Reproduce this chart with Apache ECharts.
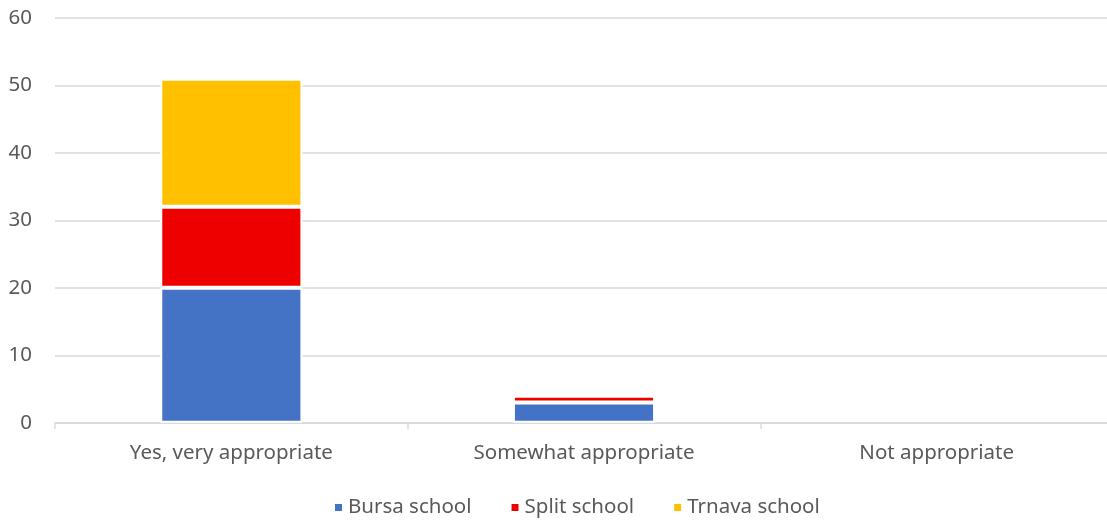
<!DOCTYPE html>
<html>
<head>
<meta charset="utf-8">
<script src="https://cdn.jsdelivr.net/npm/echarts@6/dist/echarts.min.js"></script>
<style>html,body{margin:0;padding:0;background:#fff;}#c{width:1107px;height:522px;}</style>
</head>
<body>
<div id="c"></div>
<script>
const categories = ['Yes, very appropriate', 'Somewhat appropriate', 'Not appropriate'];
const seriesNames = ['Bursa school', 'Split school', 'Trnava school'];
const bursa = [20, 3, 0];
const split = [12, 1, 0];
const trnava = [19, 0, 0];
const colors = ['#4472C4', '#EE0000', '#FFC000'];
const values = [bursa, split, trnava];

const chart = echarts.init(document.getElementById('c'));
const font = 'Noto Sans';
chart.setOption({
  animation: false,
  textStyle: { fontFamily: font },
  grid: { left: 55, width: 1058, top: 18, bottom: 99.3, containLabel: false, outerBoundsMode: 'none' },
  legend: {
    top: 492,
    left: 328,
    itemWidth: 9, itemHeight: 9, itemGap: 38,
    icon: 'rect',
    textStyle: { fontSize: 20.5, color: '#595959', fontFamily: font },
    data: seriesNames
  },
  xAxis: {
    type: 'category',
    data: categories,
    axisLine: { lineStyle: { color: '#D9D9D9', width: 1.5 } },
    axisTick: { show: true, length: 6, lineStyle: { color: '#D9D9D9', width: 1.5 } },
    axisLabel: { fontSize: 20.5, color: '#595959', margin: 20, fontFamily: font }
  },
  yAxis: {
    type: 'value',
    min: 0, max: 60, interval: 10,
    axisLine: { show: false },
    axisTick: { show: false },
    splitLine: { lineStyle: { color: '#D9D9D9', width: 1.5 } },
    axisLabel: { fontSize: 20.5, color: '#595959', margin: 23, fontFamily: font }
  },
  series: seriesNames.map((n, i) => ({
    name: n,
    type: 'bar',
    stack: 'total',
    data: values[i].map(v => (v === 0 ? '-' : v)),
    barWidth: '40.3%',
    itemStyle: { color: colors[i], borderColor: '#ffffff', borderWidth: 2 }
  }))
});
</script>
</body>
</html>
